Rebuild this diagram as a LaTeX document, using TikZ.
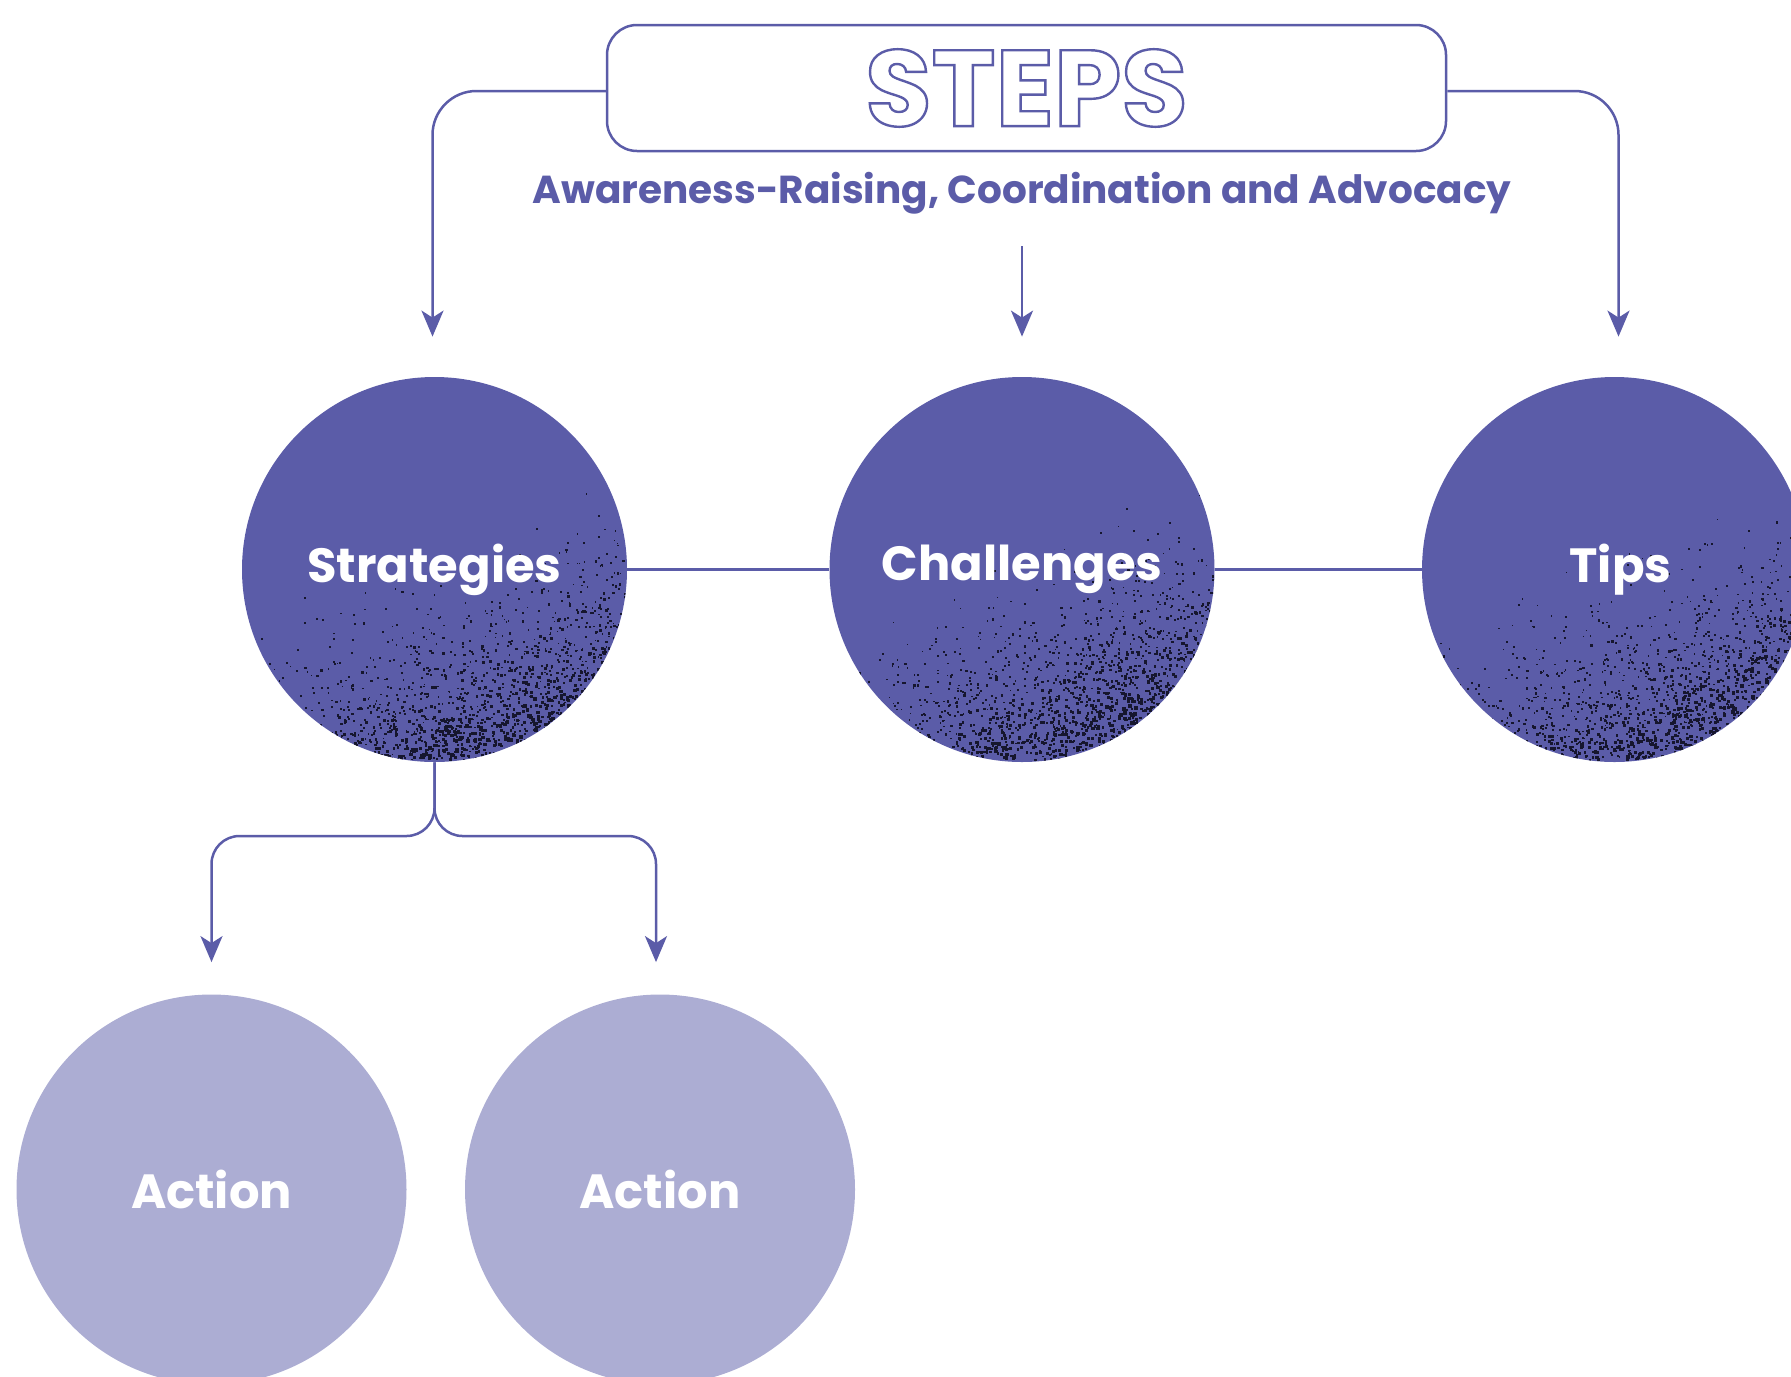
\documentclass[tikz,border=0pt]{standalone}
\usepackage{fontspec}
\setmainfont{Poppins}
\usetikzlibrary{arrows.meta}
\definecolor{pur}{HTML}{5B5CA8}
\definecolor{lpur}{HTML}{ACADD3}
\definecolor{spk}{HTML}{16162E}
\newcommand\speckleat[2]{%
 \begin{scope}
 \clip (#1,#2) circle[radius=96.25pt];
 \pgfsetfillcolor{spk}%
 \foreach \k in {1,...,8000}{%
   \pgfmathsetmacro\spkU{2*rnd-1}%
   \pgfmathsetmacro\spkV{1.7*rnd-0.7}%
   \pgfmathsetmacro\spkP{0.95*min(1,max(0,0.35*\spkU+0.85*\spkV+0.2))^2.5}%
   \pgfmathsetmacro\spkD{rnd<\spkP ? 1 : 0}%
   \ifdim\spkD pt>0.5pt
     \pgfmathsetmacro\spkR{0.6+0.5*rnd+0.9*\spkP*rnd}%
     \pgfmathsetmacro\spkX{#1+192*\spkU}%
     \pgfmathsetmacro\spkY{#2+192*\spkV}%
     \pgfpathrectangle{\pgfpointxy{\spkX}{\spkY}}{\pgfpoint{\spkR pt}{\spkR pt}}%
     \pgfusepath{fill}%
   \fi}%
 \end{scope}}
\newcommand\outlinetext[1]{\special{pdf:code 1 Tr 1.2 w}#1\special{pdf:code 0 Tr}}
\begin{document}
\begin{tikzpicture}[x=0.5pt,y=-0.5pt,
  conn/.style={draw=pur, line width=1.25pt},
  arr/.style={conn, -{Stealth[length=13pt,width=11pt,inset=3.5pt]}},
  dark/.style={circle, fill=pur, minimum size=192.5pt, inner sep=0pt},
  light/.style={circle, fill=lpur, minimum size=195pt, inner sep=0pt, text=white,
    font=\bfseries\fontsize{24}{28}\selectfont},
  lbl/.style={text=white, font=\bfseries\fontsize{24}{28}\selectfont, inner sep=0pt}]
\pgfmathsetseed{11}
\useasboundingbox (0,0) rectangle (1791,1376);
% header
\node[conn, rounded corners=15pt, minimum width=419.5pt, minimum height=63pt, inner sep=0pt,
  text=pur, font=\bfseries\fontsize{54}{60}\selectfont] (steps) at (1026.5,88) {\outlinetext{STEPS}};
\node[text=pur, font=\bfseries\fontsize{19.5}{23}\selectfont] (sub) at (1022,193.5)
  {Awareness-Raising, Coordination and Advocacy};
\coordinate (m0) at (1022,246);
% circles
\node[dark] (strat) at (434.5,569.5) {};
\node[dark] (chal) at (1022,569.5) {};
\node[dark] (tips) at (1614.5,569.5) {};
\speckleat{434.5}{569.5}
\speckleat{1022}{569.5}
\speckleat{1614.5}{569.5}
\node[lbl] (stratlbl) at (strat.center) {Strategies};
\node[lbl] (challbl) at (chal.center) {Challenges};
\node[lbl] (tipslbl) at ([xshift=3pt]tips.center) {Tips};
\node[light] (act1) at (211.5,1189.5) {Action};
\node[light] (act2) at (660,1189.5) {Action};
% connectors
\draw[arr, rounded corners=22pt, shorten >=20pt] ([yshift=-1.5pt]steps.west) -| ([xshift=-1pt]strat.north);
\draw[arr, rounded corners=22pt, shorten >=20pt] ([yshift=-1.5pt]steps.east) -| ([xshift=2pt]tips.north);
\draw[arr, shorten >=20pt] (m0) -- (chal.north);
\draw[conn] (strat.east) -- (chal.west);
\draw[conn] (chal.east) -- (tips.west);
\draw[arr, rounded corners=14pt, shorten >=16pt] (strat.south) -- (strat.south |- 0,836) -| (act1.north);
\draw[arr, rounded corners=14pt, shorten >=16pt] (strat.south) -- (strat.south |- 0,836) -| ([xshift=-2pt]act2.north);
\end{tikzpicture}
\end{document}
